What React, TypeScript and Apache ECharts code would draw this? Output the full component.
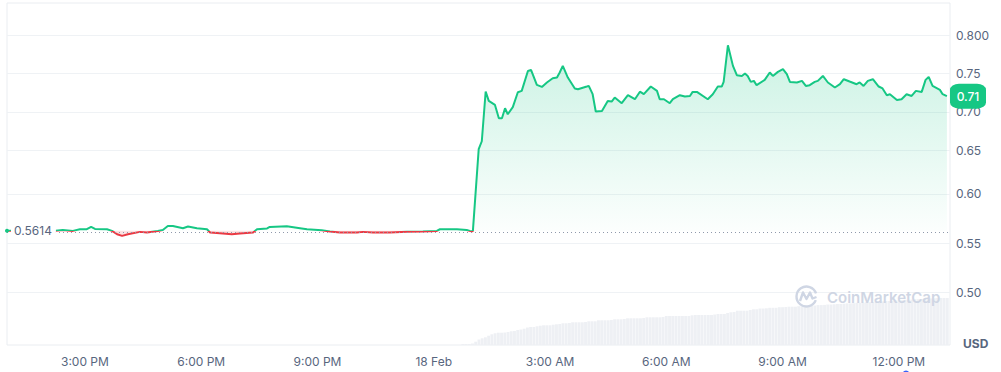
import React, { useEffect, useRef, useState } from 'react';
import * as echarts from 'echarts';

// Hours since 17 Feb 00:00 (24 = 18 Feb 00:00)
const hours = [
  12.99, 14.18, 14.43, 14.69, 14.87, 15.05, 15.16, 15.26, 15.57, 15.70,
  15.83, 15.96, 16.11, 16.42, 16.60, 16.88, 17.01, 17.14, 17.27, 17.53,
  17.66, 17.89, 18.15, 18.23, 18.48, 18.79, 19.00, 19.34, 19.44, 19.70,
  19.77, 20.21, 20.55, 20.73, 21.11, 21.32, 21.58, 22.02, 22.17, 22.43,
  22.87, 23.31, 23.72, 24.08, 24.16, 24.60, 24.85, 24.93, 25.01, 25.16,
  25.24, 25.34, 25.42, 25.58, 25.68, 25.76, 25.84, 25.91, 26.04, 26.17,
  26.27, 26.43, 26.51, 26.66, 26.79, 26.92, 27.07, 27.18, 27.25, 27.33,
  27.46, 27.64, 27.72, 27.95, 28.00, 28.10, 28.18, 28.34, 28.49, 28.59,
  28.67, 28.85, 29.01, 29.19, 29.32, 29.42, 29.60, 29.76, 29.83, 29.94,
  30.09, 30.17, 30.35, 30.48, 30.61, 30.68, 30.79, 31.07, 31.20, 31.33,
  31.43, 31.48, 31.59, 31.72, 31.82, 31.95, 32.03, 32.10, 32.18, 32.26,
  32.33, 32.54, 32.67, 32.75, 32.88, 33.01, 33.11, 33.19, 33.37, 33.50,
  33.60, 33.70, 33.83, 33.91, 34.04, 34.17, 34.35, 34.48, 34.58, 34.73,
  34.91, 34.99, 35.09, 35.20, 35.33, 35.48, 35.58, 35.69, 35.77, 35.95,
  36.07, 36.20, 36.33, 36.44, 36.59, 36.69, 36.77, 36.87, 37.06, 37.13,
  37.24,
];

const prices = [
  0.5614, 0.5612, 0.5622, 0.5612, 0.5629, 0.5629, 0.5653, 0.5632, 0.5629, 0.5612,
  0.5578, 0.5561, 0.5578, 0.5602, 0.5596, 0.5612, 0.5622, 0.5663, 0.5663, 0.5640,
  0.5657, 0.5640, 0.5629, 0.5596, 0.5588, 0.5578, 0.5585, 0.5596, 0.5629, 0.5637,
  0.5653, 0.5660, 0.5640, 0.5629, 0.5619, 0.5606, 0.5596, 0.5596, 0.5602, 0.5596,
  0.5596, 0.5602, 0.5606, 0.5612, 0.5629, 0.5629, 0.5622, 0.5612, 0.5609, 0.6516,
  0.6612, 0.7242, 0.7118, 0.7066, 0.6896, 0.6896, 0.7024, 0.6947, 0.7037, 0.7232,
  0.7250, 0.7519, 0.7533, 0.7330, 0.7303, 0.7362, 0.7420, 0.7429, 0.7498, 0.7589,
  0.7429, 0.7282, 0.7272, 0.7308, 0.7316, 0.7206, 0.6982, 0.6989, 0.7118, 0.7110,
  0.7162, 0.7088, 0.7193, 0.7140, 0.7239, 0.7206, 0.7308, 0.7250, 0.7140, 0.7140,
  0.7088, 0.7140, 0.7193, 0.7176, 0.7183, 0.7236, 0.7236, 0.7140, 0.7206, 0.7308,
  0.7308, 0.7370, 0.7881, 0.7589, 0.7461, 0.7451, 0.7484, 0.7451, 0.7370, 0.7384,
  0.7326, 0.7397, 0.7498, 0.7451, 0.7506, 0.7543, 0.7474, 0.7370, 0.7362, 0.7384,
  0.7316, 0.7326, 0.7370, 0.7384, 0.7451, 0.7362, 0.7295, 0.7339, 0.7406, 0.7375,
  0.7339, 0.7362, 0.7316, 0.7384, 0.7406, 0.7308, 0.7282, 0.7193, 0.7206, 0.7131,
  0.7140, 0.7206, 0.7183, 0.7250, 0.7236, 0.7397, 0.7437, 0.7316, 0.7263, 0.7206,
  0.7180,
];

// 5-minute volume bars (relative units), starting 18 Feb 00:45
const volStartHour = 24.75;
const volStepHour = 5 / 60;
const volumes = [
  1, 1, 1, 1.5, 3.3, 5.5, 6.7, 7.7, 9.3, 10.7,
  11.7, 12.3, 12.3, 12.5, 13, 13.7, 14, 15, 15.5, 16.3,
  17.5, 18, 18, 18.7, 19.3, 19.7, 19.7, 19.7, 20.3, 20.7,
  21, 21.7, 21.7, 22, 22.7, 22.7, 22.7, 22.7, 23, 23.7,
  23.7, 23.7, 24.7, 24.7, 24.7, 24.7, 25, 25.7, 25.7, 25.7,
  26, 26.7, 26.7, 26.7, 26.7, 26.7, 27, 27.7, 27.7, 27.7,
  27.7, 27.7, 28, 29, 29, 29, 29, 29, 29, 29,
  29, 29.7, 30, 30, 30, 30, 30, 30, 30.5, 31,
  31, 31, 32, 32.7, 33, 34.3, 34.3, 34.3, 34.3, 35,
  35.7, 35.7, 36.5, 36.5, 36.7, 37.2, 37.2, 37.2, 37.8, 37.8,
  38, 38.3, 38.3, 38.3, 38.8, 38.8, 39, 39.3, 39.3, 39.5,
  39.9, 39.9, 40.1, 40.5, 40.5, 40.7, 41, 41, 41.3, 41.6,
  41.6, 41.8, 42.2, 42.2, 42.4, 42.8, 42.8, 43, 43.4, 43.4,
  43.6, 44, 44, 44.2, 44.6, 44.6, 44.8, 45.2, 45.2, 45.4,
  45.8, 45.8, 46, 46.4, 46.4, 46.6, 46.8, 47, 47, 47,
  47,
];

const basePrice = 0.5614;
const yTickValues = [0.5, 0.55, 0.6, 0.65, 0.7, 0.75, 0.8];
const yTickLabels = ['0.50', '0.55', '0.60', '0.65', '0.70', '0.75', '0.800'];
const xTickHours = [15, 18, 21, 24, 27, 30, 33, 36];
const xTickLabels = ['3:00 PM', '6:00 PM', '9:00 PM', '18 Feb', '3:00 AM', '6:00 AM', '9:00 AM', '12:00 PM'];
const xMinHour = 12.99;
const xMaxHour = 37.32;
const yMinPrice = 0.4555;
const yMaxPrice = 0.8514;
const volAxisMax = 342;

const GREEN = '#16c784';
const RED = '#ea3943';
const GREY_TEXT = '#58667e';
const GRID_COLOR = '#eff2f5';
const FONT = 'Inter, "Noto Sans", sans-serif';

export default function App() {
  const ref = useRef<HTMLDivElement>(null);
  const [err, setErr] = useState('');

  useEffect(() => {
    if (!ref.current) return;
    const chart = echarts.init(ref.current, null, { renderer: 'svg' });
    const ln = Math.log;
    const lnBase = ln(basePrice);
    const priceData = hours.map((h, i) => [h, ln(prices[i])]);
    const upData = hours.map((h, i) => [h, Math.max(ln(prices[i]), lnBase)]);
    const downData = hours.map((h, i) => [h, Math.min(ln(prices[i]), lnBase)]);
    const volData = volumes.map((v, i) => [volStartHour + i * volStepHour, v]);
    const lastPrice = prices[prices.length - 1];
    const lastLabel = (Math.floor(lastPrice * 100) / 100).toFixed(2);

    const yGridLines = yTickValues.map((v, i) => ({
      yAxis: ln(v),
      label: { formatter: yTickLabels[i] },
    }));
    const xLabelLines = xTickHours.map((h, i) => ({
      xAxis: h,
      label: { formatter: xTickLabels[i] },
    }));

    try {
      chart.setOption({
        animation: false,
        textStyle: { fontFamily: FONT },
        grid: {
          left: 7,
          right: 51,
          top: 3,
          bottom: 27,
          show: true,
          borderColor: '#eaedf1',
          borderWidth: 1,
          containLabel: false,
        },
        visualMap: {
          type: 'piecewise',
          show: false,
          seriesIndex: 3,
          dimension: 1,
          pieces: [
            { gte: -3, lt: lnBase, color: RED },
            { gte: lnBase, lte: 1, color: GREEN },
          ],
        },
        xAxis: {
          type: 'value',
          min: xMinHour,
          max: xMaxHour,
          splitLine: { show: false },
          axisLine: { show: false },
          axisTick: { show: false },
          axisLabel: { show: false },
        },
        yAxis: [
          {
            type: 'value',
            position: 'right',
            min: ln(yMinPrice),
            max: ln(yMaxPrice),
            axisLine: { show: false },
            axisTick: { show: false },
            splitLine: { show: false },
            axisLabel: { show: false },
          },
          {
            type: 'value',
            min: 0,
            max: volAxisMax,
            show: false,
            splitLine: { show: false },
          },
        ],
        series: [
          {
            type: 'bar',
            yAxisIndex: 1,
            data: volData,
            barWidth: 2.9,
            silent: true,
            itemStyle: { color: '#eef0f4' },
            z: 1,
          },
          {
            type: 'line',
            data: upData,
            symbol: 'none',
            silent: true,
            lineStyle: { width: 0, opacity: 0 },
            areaStyle: {
              origin: lnBase,
              color: new echarts.graphic.LinearGradient(0, 0, 0, 1, [
                { offset: 0, color: 'rgba(22,199,132,0.32)' },
                { offset: 1, color: 'rgba(22,199,132,0.02)' },
              ]),
            },
            z: 2,
            markLine: {
              silent: true,
              symbol: ['none', 'none'],
              lineStyle: { type: 'solid', color: GRID_COLOR, width: 1 },
              label: {
                show: true,
                position: 'end',
                distance: 6,
                color: GREY_TEXT,
                fontSize: 12,
                fontFamily: FONT,
              },
              data: yGridLines,
              z: 0,
            },
          },
          {
            type: 'line',
            data: downData,
            symbol: 'none',
            silent: true,
            lineStyle: { width: 0, opacity: 0 },
            areaStyle: { origin: lnBase, color: 'rgba(234,57,67,0.22)' },
            z: 2,
            markLine: {
              silent: true,
              symbol: ['none', 'none'],
              lineStyle: { color: 'rgba(0,0,0,0)', width: 1 },
              label: {
                show: true,
                position: 'start',
                distance: 10,
                color: GREY_TEXT,
                fontSize: 12,
                fontFamily: FONT,
              },
              data: xLabelLines,
            },
          },
          {
            type: 'line',
            data: priceData,
            symbol: 'none',
            lineStyle: { width: 2 },
            z: 4,
            markLine: {
              silent: true,
              symbol: ['none', 'none'],
              label: { show: false },
              lineStyle: { type: [1, 3], color: '#8f99ab', width: 1 },
              data: [{ yAxis: lnBase }],
            },
            markPoint: {
              silent: true,
              data: [
                {
                  coord: [hours[0], lnBase],
                  symbol: 'circle',
                  symbolSize: 4,
                  itemStyle: { color: GREEN },
                  label: {
                    show: true,
                    position: 'right',
                    distance: 2,
                    formatter: basePrice.toFixed(4),
                    color: GREY_TEXT,
                    fontSize: 12,
                    fontFamily: FONT,
                    backgroundColor: '#ffffff',
                    padding: [2, 4, 2, 3],
                  },
                },
                {
                  coord: [xMaxHour, ln(lastPrice)],
                  symbol: 'roundRect',
                  symbolSize: [36, 25],
                  symbolOffset: [18, 0],
                  itemStyle: { color: GREEN },
                  label: {
                    show: true,
                    position: 'inside',
                    formatter: lastLabel,
                    color: '#ffffff',
                    fontSize: 12,
                    fontWeight: 500,
                    fontFamily: FONT,
                  },
                },
              ],
            },
          },
        ],
        graphic: [
          {
            type: 'arc',
            silent: true,
            shape: { cx: 806.5, cy: 296.5, r: 10, startAngle: 0.12 * Math.PI, endAngle: 1.9 * Math.PI, clockwise: true },
            style: { stroke: '#cfd6e4', lineWidth: 2.4, fill: 'none' },
            z: 10,
          },
          {
            type: 'polyline',
            silent: true,
            shape: { points: [[800, 301], [803, 292.5], [806.5, 299], [810, 292.5], [812.5, 298.5], [816.5, 297]] },
            style: { stroke: '#cfd6e4', lineWidth: 2.4, fill: 'none', lineJoin: 'round' },
            z: 10,
          },
          {
            type: 'text',
            silent: true,
            style: {
              text: 'CoinMarketCap',
              x: 827,
              y: 297,
              verticalAlign: 'middle',
              font: '600 15px Inter, sans-serif',
              fill: '#cfd6e4',
            },
            z: 10,
          },
          {
            type: 'text',
            silent: true,
            style: {
              text: 'USD',
              x: 963,
              y: 343,
              verticalAlign: 'middle',
              font: 'bold 12px Inter, sans-serif',
              fill: GREY_TEXT,
            },
            z: 10,
          },
          {
            type: 'circle',
            silent: true,
            shape: { cx: 906, cy: 374, r: 3.5 },
            style: { fill: '#3861fb' },
            z: 10,
          },
        ],
      });
    } catch (e: any) {
      setErr(String(e && e.stack ? e.stack : e));
    }

    return () => chart.dispose();
  }, []);

  return (
    <>
      <div
        ref={ref}
        style={{ position: 'fixed', left: 0, top: 0, width: 1001, height: 372, background: '#ffffff' }}
      />
      {err ? (
        <pre style={{ position: 'fixed', left: 0, top: 0, fontSize: 9, margin: 0, zIndex: 5, color: '#000' }}>{err}</pre>
      ) : null}
    </>
  );
}
